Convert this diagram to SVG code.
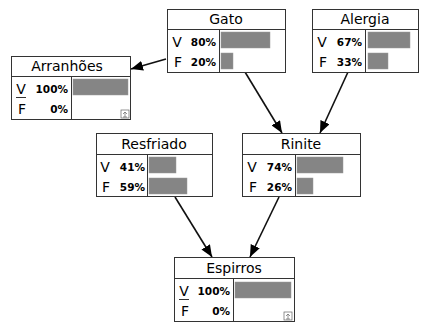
<svg xmlns="http://www.w3.org/2000/svg" width="424" height="325" viewBox="0 0 424 325">
<defs>
<style>
.box{fill:#fff;stroke:#333;stroke-width:1}
.ln{stroke:#333;stroke-width:1}
.bar{fill:#858585;stroke:#9a9a9a;stroke-width:0.5}
.t{font-family:"DejaVu Sans",Verdana,sans-serif;font-size:14px;fill:#000;text-anchor:middle}
.l{font-family:"DejaVu Sans",Verdana,sans-serif;font-size:14px;fill:#000;text-anchor:middle}
.p{font-family:"DejaVu Sans",Verdana,sans-serif;font-size:10.5px;font-weight:bold;fill:#000;text-anchor:end}
.edge{stroke:#111;stroke-width:1.6;fill:none}
.ic{fill:#fff;stroke:#666;stroke-width:0.7}
</style>
<marker id="ah" markerWidth="13" markerHeight="10" refX="12" refY="5" orient="auto" markerUnits="userSpaceOnUse">
<path d="M0,0 L12,5 L0,10 z" fill="#000"/>
</marker>
</defs>
<g id="connectors">
<line class="edge" x1="166" y1="59" x2="131" y2="69" marker-end="url(#ah)"/>
<line class="edge" x1="245" y1="72" x2="282" y2="133" marker-end="url(#ah)"/>
<line class="edge" x1="348" y1="72" x2="320" y2="133" marker-end="url(#ah)"/>
<line class="edge" x1="175" y1="197" x2="212" y2="257" marker-end="url(#ah)"/>
<line class="edge" x1="279" y1="197" x2="250" y2="257" marker-end="url(#ah)"/>
</g>
<g id="gato">
<rect class="box" x="167.5" y="9.5" width="118" height="63"/>
<line class="ln" x1="167.5" y1="29.5" x2="285.5" y2="29.5"/>
<line class="ln" x1="219.5" y1="29.5" x2="219.5" y2="72.5"/>
<text class="t" x="226" y="24">Gato</text>
<text class="l" x="177" y="47">V</text>
<text class="p" x="216" y="46">80%</text>
<rect class="bar" x="221" y="32" width="49" height="16"/>
<text class="l" x="178" y="67">F</text>
<text class="p" x="216" y="66">20%</text>
<rect class="bar" x="221" y="53" width="12" height="16"/>
</g>
<g id="alergia">
<rect class="box" x="312.5" y="9.5" width="106" height="63"/>
<line class="ln" x1="312.5" y1="29.5" x2="418.5" y2="29.5"/>
<line class="ln" x1="365.5" y1="29.5" x2="365.5" y2="72.5"/>
<text class="t" x="365" y="24">Alergia</text>
<text class="l" x="322" y="47">V</text>
<text class="p" x="362" y="46">67%</text>
<rect class="bar" x="368" y="32" width="42" height="16"/>
<text class="l" x="323" y="67">F</text>
<text class="p" x="362" y="66">33%</text>
<rect class="bar" x="368" y="53" width="20" height="16"/>
</g>
<g id="arranhoes">
<rect class="box" x="11.5" y="56.5" width="119" height="63"/>
<line class="ln" x1="11.5" y1="76.5" x2="130.5" y2="76.5"/>
<line class="ln" x1="71.5" y1="76.5" x2="71.5" y2="119.5"/>
<text class="t" x="67" y="71">Arranhões</text>
<text class="l" x="21" y="94">V</text>
<line class="ln" x1="16" y1="97.5" x2="26" y2="97.5"/>
<text class="p" x="68" y="93">100%</text>
<rect class="bar" x="73" y="79" width="55" height="16"/>
<text class="l" x="22" y="114">F</text>
<text class="p" x="68" y="113">0%</text>
<rect class="ic" x="121" y="110" width="8" height="8"/>
<path d="M123,114 L125,112 L127,114 M125,112 V117 M123,117 H127" stroke="#666" stroke-width="0.7" fill="none"/>
</g>
<g id="resfriado">
<rect class="box" x="96.5" y="133.5" width="116" height="63"/>
<line class="ln" x1="96.5" y1="154.5" x2="212.5" y2="154.5"/>
<line class="ln" x1="147.5" y1="154.5" x2="147.5" y2="196.5"/>
<text class="t" x="154" y="149">Resfriado</text>
<text class="l" x="105" y="172">V</text>
<text class="p" x="145" y="171">41%</text>
<rect class="bar" x="149" y="157" width="27" height="16"/>
<text class="l" x="106" y="192">F</text>
<text class="p" x="145" y="191">59%</text>
<rect class="bar" x="149" y="178" width="38" height="16"/>
</g>
<g id="rinite">
<rect class="box" x="242.5" y="133.5" width="118" height="63"/>
<line class="ln" x1="242.5" y1="154.5" x2="360.5" y2="154.5"/>
<line class="ln" x1="295.5" y1="154.5" x2="295.5" y2="196.5"/>
<text class="t" x="301" y="149">Rinite</text>
<text class="l" x="252" y="172">V</text>
<text class="p" x="292" y="171">74%</text>
<rect class="bar" x="297" y="157" width="46" height="16"/>
<text class="l" x="253" y="192">F</text>
<text class="p" x="292" y="191">26%</text>
<rect class="bar" x="297" y="178" width="16" height="16"/>
</g>
<g id="espirros">
<rect class="box" x="174.5" y="257.5" width="120" height="64"/>
<line class="ln" x1="174.5" y1="278.5" x2="294.5" y2="278.5"/>
<line class="ln" x1="233.5" y1="278.5" x2="233.5" y2="321.5"/>
<text class="t" x="234" y="273">Espirros</text>
<text class="l" x="184" y="296">V</text>
<line class="ln" x1="179" y1="299.5" x2="189" y2="299.5"/>
<text class="p" x="230" y="295">100%</text>
<rect class="bar" x="235" y="282" width="56" height="16"/>
<text class="l" x="185" y="316">F</text>
<text class="p" x="230" y="315">0%</text>
<rect class="ic" x="284" y="312" width="8" height="8"/>
<path d="M286,316 L288,314 L290,316 M288,314 V319 M286,319 H290" stroke="#666" stroke-width="0.7" fill="none"/>
</g>
</svg>
